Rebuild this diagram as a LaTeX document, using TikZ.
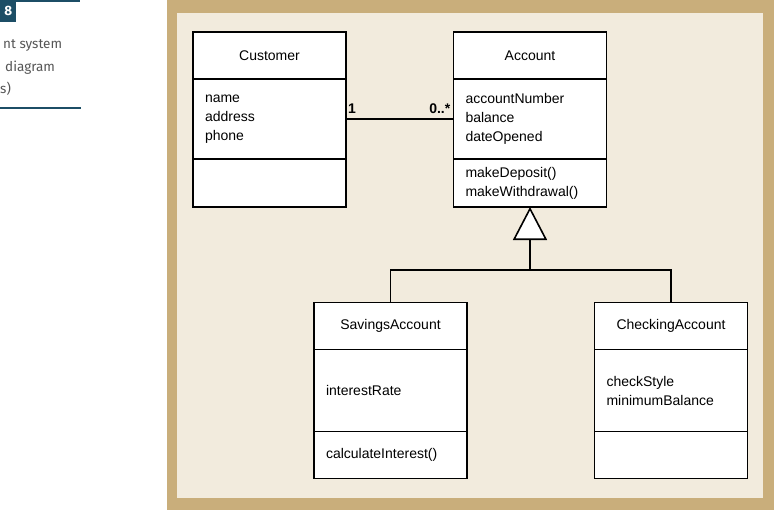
\documentclass[tikz,border=0pt]{standalone}
\usepackage{fontspec}
\setmainfont{Liberation Sans}
\newfontfamily\capfont{Fira Sans}
\usetikzlibrary{positioning,arrows.meta}
\definecolor{frametan}{RGB}{201,174,123}
\definecolor{framecream}{RGB}{242,235,221}
\definecolor{capteal}{RGB}{28,78,102}
\definecolor{capgray}{RGB}{85,85,85}

\begin{document}
\begin{tikzpicture}[x=1pt, y=-1pt,
classhead/.style={rectangle, draw=black, fill=white, line width=1.6pt, outer sep=0pt, minimum width=153pt, minimum height=47pt, font=\fontsize{14}{19}\selectfont},
classpart/.style={rectangle, draw=black, fill=white, line width=1.6pt, outer sep=0pt, text width=129pt, inner xsep=12pt, inner ysep=4pt, align=left, font=\fontsize{14}{19}\selectfont},
multlabel/.style={font=\fontsize{14}{16}\selectfont\bfseries, inner sep=1pt, anchor=south},
captext/.style={font=\capfont\fontsize{13.5}{16}\selectfont, text=capgray, inner sep=0pt, anchor=base west},
]
\useasboundingbox (0,0) rectangle (774,511);

%Frame
\fill[frametan] (167,0) rectangle (774,510);
\fill[framecream] (177,13) rectangle (763,498);

%Caption
\draw[capteal, line width=2pt] (0,1) -- (80,1);
\draw[capteal, line width=2pt] (0,108) -- (81,108);
\node[fill=capteal, text=white, font=\capfont\fontsize{13.5}{16}\selectfont\bfseries, minimum width=16pt, minimum height=22pt, inner sep=0pt, anchor=north west] (fignum) at (0,0) {8};
\node[captext] (capa) at (3,49) {nt system};
\node[captext] (capb) at (5,71) {diagram};
\node[captext] (capc) at (0,93) {s)};

%Nodes
\node[classhead] (customer) at (269.5,55.5) {Customer};
\node[classpart, minimum height=80pt, below=0pt of customer] (customerattr) {name\\address\\phone};
\node[classpart, minimum height=48pt, below=0pt of customerattr] (customermeth) {};

\node[classhead] (account) at (530,55.5) {Account};
\node[classpart, minimum height=80pt, below=0pt of account] (accountattr) {accountNumber\\balance\\dateOpened};
\node[classpart, minimum height=48pt, below=0pt of accountattr] (accountmeth) {makeDeposit()\\makeWithdrawal()};

\node[classhead] (savings) at (390.5,326) {SavingsAccount};
\node[classpart, minimum height=82pt, below=0pt of savings] (savingsattr) {interestRate};
\node[classpart, minimum height=47pt, below=0pt of savingsattr] (savingsmeth) {calculateInterest()};

\node[classhead] (checking) at (671,326) {CheckingAccount};
\node[classpart, minimum height=82pt, below=0pt of checking] (checkingattr) {checkStyle\\minimumBalance};
\node[classpart, minimum height=47pt, below=0pt of checkingattr] (checkingmeth) {};

\coordinate (joint) at (530,270);

%Lines
\draw[line width=1.6pt] (customerattr.east) -- (accountattr.west);
\node[multlabel, anchor=south west] (custmult) at ([shift={(1pt,4pt)}]customerattr.east) {1};
\node[multlabel, anchor=south east] (acctmult) at ([shift={(-2pt,4pt)}]accountattr.west) {0..*};
\draw[line width=1.6pt] (savings.north) |- (joint) -| (checking.north);
\draw[line width=1.6pt, -{Triangle[fill=white, length=33pt, width=34pt]}] (joint) -- (accountmeth.south);
\end{tikzpicture}
\end{document}
